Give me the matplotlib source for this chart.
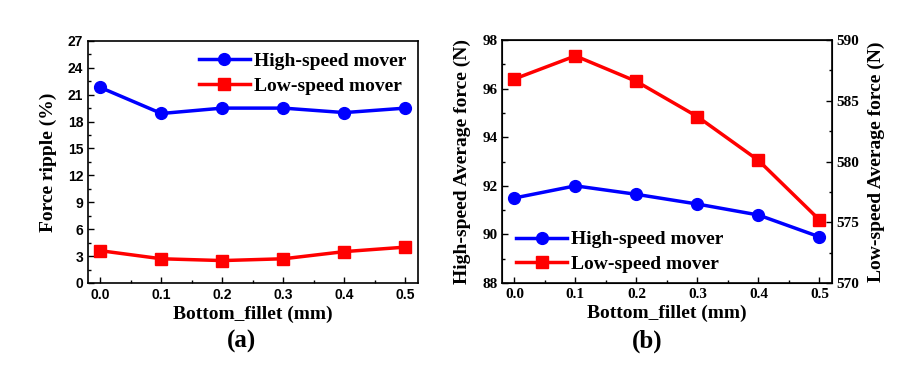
# bottom fillet study: force ripple and average force

import matplotlib
matplotlib.use('Agg')
import matplotlib.pyplot as plt
from matplotlib.ticker import MultipleLocator

fillet = [0.0, 0.1, 0.2, 0.3, 0.4, 0.5]

# panel (a) force ripple (%)
ripple_high = [21.8, 18.9, 19.5, 19.5, 19.0, 19.5]
ripple_low = [3.6, 2.7, 2.5, 2.7, 3.5, 4.0]

# panel (b) average force (N)
force_high = [91.5, 92.0, 91.65, 91.25, 90.8, 89.9]
force_low = [586.8, 588.7, 586.6, 583.7, 580.1, 575.2]

serif = 'Liberation Serif'
sans = 'Liberation Sans'
blue = '#0000ff'
red = '#ff0000'

fig = plt.figure(figsize=(9, 3.68), dpi=100)

def style_axes(ax, tick_font):
    ax.tick_params(which='both', direction='in', top=False, right=False)
    ax.tick_params(which='major', length=4, width=1)
    ax.tick_params(which='minor', length=2, width=1)
    for s in ax.spines.values():
        s.set_linewidth(1.2)
    for lab in ax.get_xticklabels() + ax.get_yticklabels():
        lab.set_fontfamily(tick_font)
        lab.set_fontweight('bold')
        lab.set_fontsize(11 if tick_font == serif else 10)

# plot (a)
ax1 = fig.add_axes([0.098, 0.231, 0.366, 0.658])
ax1.plot(fillet, ripple_high, '-o', color=blue, lw=2.5, ms=8.5, label='High-speed mover')
ax1.plot(fillet, ripple_low, '-s', color=red, lw=2.5, ms=8.5, label='Low-speed mover')
ax1.set_xlim(-0.02, 0.52)
ax1.set_ylim(0, 27)
ax1.xaxis.set_major_locator(MultipleLocator(0.1))
ax1.xaxis.set_minor_locator(MultipleLocator(0.05))
ax1.yaxis.set_major_locator(MultipleLocator(3))
ax1.yaxis.set_minor_locator(MultipleLocator(1.5))
ax1.set_xticks(fillet)
ax1.set_xticklabels([f'{v:.1f}' for v in fillet])
ax1.set_xlabel('Bottom_fillet (mm)', fontfamily=serif, fontweight='bold', fontsize=14, labelpad=3)
ax1.set_ylabel('Force ripple (%)', fontfamily=serif, fontweight='bold', fontsize=14, labelpad=8)
style_axes(ax1, sans)
ax1.legend(loc='upper right', frameon=False, handlelength=2.6, handletextpad=0.2,
           borderaxespad=0.2, labelspacing=0.35,
           prop={'family': serif, 'weight': 'bold', 'size': 14})

# plot (b) with twin axis
ax2 = fig.add_axes([0.558, 0.231, 0.366, 0.660])
ax3 = ax2.twinx()
l1, = ax2.plot(fillet, force_high, '-o', color=blue, lw=2.5, ms=8.5, label='High-speed mover')
l2, = ax3.plot(fillet, force_low, '-s', color=red, lw=2.5, ms=8.5, label='Low-speed mover')
ax2.set_xlim(-0.02, 0.52)
ax2.set_ylim(88, 98)
ax3.set_ylim(570, 590)
ax2.xaxis.set_major_locator(MultipleLocator(0.1))
ax2.xaxis.set_minor_locator(MultipleLocator(0.05))
ax2.yaxis.set_major_locator(MultipleLocator(2))
ax2.yaxis.set_minor_locator(MultipleLocator(1))
ax3.yaxis.set_major_locator(MultipleLocator(5))
ax3.yaxis.set_minor_locator(MultipleLocator(2.5))
ax2.set_xticks(fillet)
ax2.set_xticklabels([f'{v:.1f}' for v in fillet])
ax2.set_xlabel('Bottom_fillet (mm)', fontfamily=serif, fontweight='bold', fontsize=14, labelpad=3)
ax2.set_ylabel('High-speed Average force (N)', fontfamily=serif, fontweight='bold', fontsize=14, labelpad=8)
ax3.set_ylabel('Low-speed Average force (N)', fontfamily=serif, fontweight='bold', fontsize=14, labelpad=6)
style_axes(ax2, serif)
ax3.tick_params(which='both', direction='in', left=False, right=True)
ax3.tick_params(which='major', length=4, width=1)
ax3.tick_params(which='minor', length=2, width=1)
for lab in ax3.get_yticklabels():
    lab.set_fontfamily(serif)
    lab.set_fontweight('bold')
    lab.set_fontsize(11)
ax2.legend([l1, l2], [l1.get_label(), l2.get_label()], loc='lower left',
           bbox_to_anchor=(-0.01, -0.03), frameon=False, handlelength=2.6,
           handletextpad=0.2, labelspacing=0.35,
           prop={'family': serif, 'weight': 'bold', 'size': 14})

fig.text(0.268, 0.072, '(a)', ha='center', va='center', fontfamily=serif, fontweight='bold', fontsize=18)
fig.text(0.719, 0.072, '(b)', ha='center', va='center', fontfamily=serif, fontweight='bold', fontsize=18)

fig.savefig('out.png', dpi=100)
